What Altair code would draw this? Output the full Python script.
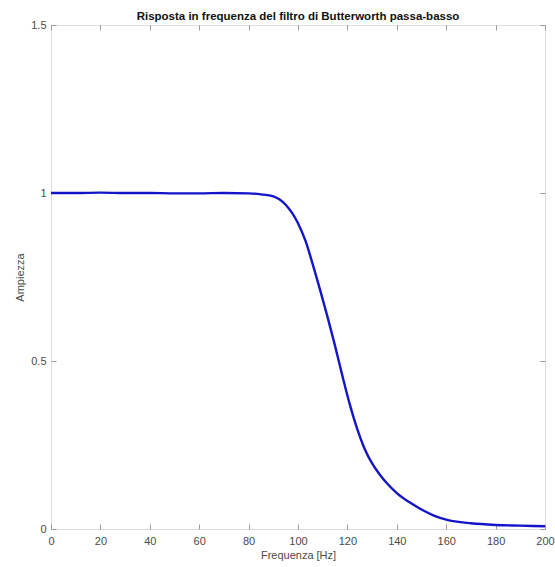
import altair as alt
import pandas as pd

# Frequency (Hz) and amplitude
freq = [0, 10, 20, 30, 40, 50, 60, 70, 80, 85, 90, 95, 100, 103, 106, 109,
        112, 115, 118, 121, 124, 127, 130, 133, 136, 140, 145, 150, 155, 160,
        170, 180, 190, 200]
amp = [1.0, 1.0, 1.001, 1.0, 1.0, 0.999, 0.999, 1.0, 0.999, 0.996, 0.99,
       0.965, 0.91, 0.858, 0.787, 0.71, 0.63, 0.545, 0.455, 0.37, 0.297,
       0.238, 0.195, 0.163, 0.136, 0.107, 0.08, 0.058, 0.04, 0.028, 0.017,
       0.012, 0.01, 0.008]

x_ticks = [0, 20, 40, 60, 80, 100, 120, 140, 160, 180, 200]
y_ticks = [0, 0.5, 1, 1.5]

df = pd.DataFrame({"f": freq, "a": amp})

W, H = 494, 504
FONT = "Liberation Sans"
LABEL_COLOR = "#4a4a4a"
AXIS_COLOR = "#9a9a9a"

xs = alt.Scale(domain=[0, 200], nice=False, zero=False)
ys = alt.Scale(domain=[0, 1.5], nice=False, zero=False)

base = alt.Chart(df)

main = base.mark_line(color="#1414c8", strokeWidth=2.4, clip=True,
                      interpolate="monotone").encode(
    x=alt.X("f:Q", scale=xs, axis=alt.Axis(
        title="Frequenza [Hz]", values=x_ticks, ticks=False, tickSize=0,
        domain=False, grid=False, labelPadding=6, labelFont=FONT,
        labelFontSize=11, labelColor=LABEL_COLOR, titleFont=FONT,
        titleFontSize=11, titleFontWeight="normal", titleColor=LABEL_COLOR,
        titlePadding=3, labelFlush=False)),
    y=alt.Y("a:Q", scale=ys, axis=alt.Axis(
        title="Ampiezza", values=y_ticks, ticks=False, tickSize=0,
        domain=False, grid=False, labelPadding=5, labelFont=FONT,
        labelFontSize=11, labelColor=LABEL_COLOR, titleFont=FONT,
        titleFontSize=11, titleFontWeight="normal", titleColor=LABEL_COLOR,
        titlePadding=5, labelFlush=False, format="~g")),
)

# inside ticks on bottom / left edges
ticks_a = base.mark_line(opacity=0).encode(
    x=alt.X("f:Q", scale=xs, axis=alt.Axis(
        orient="top", offset=-H, labels=False, title="", domain=False,
        grid=False, ticks=True, tickSize=5, tickColor=AXIS_COLOR,
        values=x_ticks)),
    y=alt.Y("a:Q", scale=ys, axis=alt.Axis(
        orient="right", offset=-W, labels=False, title="", domain=False,
        grid=False, ticks=True, tickSize=5, tickColor=AXIS_COLOR,
        values=y_ticks)),
)

# inside ticks on top / right edges
ticks_b = base.mark_line(opacity=0).encode(
    x=alt.X("f:Q", scale=xs, axis=alt.Axis(
        orient="bottom", offset=-H, labels=False, title="", domain=False,
        grid=False, ticks=True, tickSize=5, tickColor=AXIS_COLOR,
        values=x_ticks)),
    y=alt.Y("a:Q", scale=ys, axis=alt.Axis(
        orient="left", offset=-W, labels=False, title="", domain=False,
        grid=False, ticks=True, tickSize=5, tickColor=AXIS_COLOR,
        values=y_ticks)),
)

chart = alt.layer(main, ticks_a, ticks_b).resolve_axis(
    x="independent", y="independent"
).properties(
    width=W, height=H,
    title=alt.TitleParams(
        "Risposta in frequenza del filtro di Butterworth passa-basso",
        font=FONT, fontSize=11.5, fontWeight="bold", color="#111111",
        anchor="middle", offset=-3, frame="group"),
    padding={"left": 51, "top": 25, "right": 10, "bottom": 38},
    autosize=alt.AutoSizeParams(type="none"),
).configure_view(
    stroke=AXIS_COLOR, strokeWidth=1.2
).configure(background="white")

chart.save("out.html", embed_options={"renderer": "svg", "actions": False})
